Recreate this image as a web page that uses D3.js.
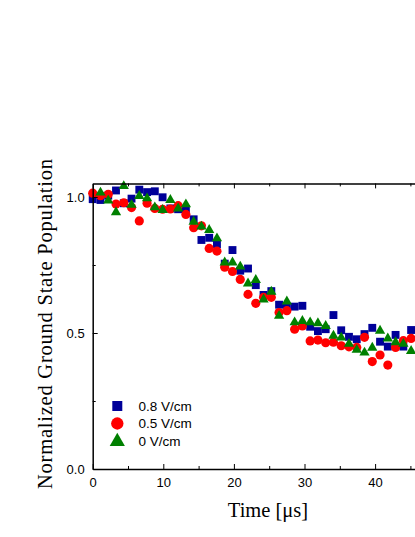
<!DOCTYPE html>
<html><head><meta charset="utf-8">
<script src="https://cdn.jsdelivr.net/npm/d3@7"></script>
<style>html,body{margin:0;padding:0;background:#fff;overflow:hidden}</style>
</head><body>
<svg id="c" width="415" height="537"></svg>
<script>
const time = [0, 1.1, 2.2, 3.3, 4.4, 5.5, 6.6, 7.7, 8.8, 9.9, 11.0, 12.1, 13.2, 14.3, 15.4, 16.5, 17.6, 18.7, 19.8, 20.9, 22.0, 23.1, 24.2, 25.3, 26.4, 27.5, 28.6, 29.7, 30.8, 31.9, 33.0, 34.1, 35.2, 36.3, 37.4, 38.5, 39.6, 40.7, 41.8, 42.9, 44.0, 45.1];
const field08 = [0.992, 0.989, 1.005, 1.024, 0.977, 0.994, 1.027, 1.018, 1.021, 0.999, 0.958, 0.955, 0.956, 0.918, 0.842, 0.850, 0.826, 0.755, 0.805, 0.729, 0.737, 0.676, 0.640, 0.654, 0.604, 0.597, 0.597, 0.600, 0.523, 0.507, 0.514, 0.566, 0.510, 0.486, 0.477, 0.496, 0.519, 0.468, 0.450, 0.493, 0.450, 0.511];
const field05 = [1.014, 1.005, 1.010, 0.974, 0.979, 0.961, 0.912, 0.977, 0.958, 0.955, 0.956, 0.968, 0.936, 0.887, 0.894, 0.811, 0.801, 0.742, 0.726, 0.697, 0.642, 0.609, 0.631, 0.631, 0.575, 0.582, 0.514, 0.526, 0.471, 0.474, 0.464, 0.466, 0.453, 0.449, 0.447, 0.484, 0.395, 0.419, 0.382, 0.447, 0.472, 0.480];
const field00 = [null, 1.016, 0.987, 0.944, 1.040, 0.971, 1.004, 0.995, 0.962, 0.952, 0.989, 0.958, 0.973, 0.909, 0.891, 0.879, 0.848, 0.759, 0.759, 0.744, 0.682, 0.695, 0.623, 0.652, 0.563, 0.616, 0.539, 0.544, 0.539, 0.536, 0.526, 0.490, 0.483, 0.460, 0.438, 0.428, 0.446, 0.508, 0.480, 0.466, 0.460, 0.434];
const seriesNames = ["0.8 V/cm", "0.5 V/cm", "0 V/cm"];
const seriesColors = ["#000099", "#ff0000", "#008000"];
const xTicks = [0, 10, 20, 30, 40];
const xMinor = [5, 15, 25, 35, 45];
const yTicks = [0.0, 0.5, 1.0];
const yMinor = [0.25, 0.75];
const xTitle = "Time [\u03bcs]";
const yTitle = "Normalized Ground State Population";

const svg = d3.select("#c");
const x = d3.scaleLinear().domain([0, 50]).range([92.7, 445.7]);
const y = d3.scaleLinear().domain([0, 1.05]).range([469, 183.4]);
const sansFont = "'Liberation Sans', Arial, sans-serif";
const serifFont = "'Liberation Serif', 'DejaVu Serif', serif";

const plot = svg.append("g");
const symbols = [d3.symbolSquare, d3.symbolCircle, d3.symbolTriangle];
const sizes = [62, 66, 46];
const datasets = [field08, field05, field00];
datasets.forEach((vals, si) => {
  const pts = time.map((t, i) => ({t, v: vals[i]})).filter(d => d.v != null);
  plot.append("g").selectAll("path").data(pts).join("path")
    .attr("transform", d => `translate(${x(d.t)},${y(d.v)})`)
    .attr("d", d3.symbol().type(symbols[si]).size(sizes[si]))
    .attr("fill", seriesColors[si]);
});

// axes
function styleAxis(g) {
  g.select(".domain").attr("stroke", "#000").attr("stroke-width", 1.5);
  g.selectAll(".tick line").attr("stroke", "#000").attr("stroke-width", 1);
  g.selectAll(".tick text").attr("font-family", sansFont).attr("font-size", 13).attr("fill", "#000");
}
const xb = svg.append("g").attr("transform", "translate(0,469)")
  .call(d3.axisBottom(x).tickValues(xTicks).tickFormat(d3.format("d")).tickSizeInner(-5).tickSizeOuter(0).tickPadding(9));
styleAxis(xb);
const xbm = svg.append("g").attr("transform", "translate(0,469)")
  .call(d3.axisBottom(x).tickValues(xMinor).tickFormat("").tickSizeInner(-3).tickSizeOuter(0));
xbm.select(".domain").remove(); xbm.selectAll(".tick line").attr("stroke", "#000");
const xt = svg.append("g").attr("transform", "translate(0,183.4)")
  .call(d3.axisTop(x).tickValues(xTicks).tickFormat("").tickSizeInner(-5).tickSizeOuter(0));
styleAxis(xt);
const xtm = svg.append("g").attr("transform", "translate(0,183.4)")
  .call(d3.axisTop(x).tickValues(xMinor).tickFormat("").tickSizeInner(-3).tickSizeOuter(0));
xtm.select(".domain").remove(); xtm.selectAll(".tick line").attr("stroke", "#000");

const yl = svg.append("g").attr("transform", "translate(92.7,0)")
  .call(d3.axisLeft(y).tickValues(yTicks).tickFormat(d3.format(".1f")).tickSizeInner(-5).tickSizeOuter(0).tickPadding(8));
styleAxis(yl);
const ylm = svg.append("g").attr("transform", "translate(92.7,0)")
  .call(d3.axisLeft(y).tickValues(yMinor).tickFormat("").tickSizeInner(-3).tickSizeOuter(0));
ylm.select(".domain").remove(); ylm.selectAll(".tick line").attr("stroke", "#000");

// titles
svg.append("text").attr("x", 268).attr("y", 517).attr("text-anchor", "middle")
  .attr("font-family", serifFont).attr("font-size", 20.5).attr("fill", "#000").text(xTitle);
svg.append("text").attr("transform", "translate(52,324) rotate(-90)").attr("text-anchor", "middle")
  .attr("font-family", serifFont).attr("font-size", 20.5).attr("fill", "#000")
  .attr("textLength", 330).attr("lengthAdjust", "spacing").text(yTitle);

// legend
const leg = svg.append("g");
const legY = [406, 423.5, 441.5];
seriesNames.forEach((name, i) => {
  leg.append("path").attr("transform", `translate(117.3,${legY[i]})`)
    .attr("d", d3.symbol().type(symbols[i]).size(i === 2 ? 100 : (i === 1 ? 120 : 100)))
    .attr("fill", seriesColors[i]);
  leg.append("text").attr("x", 138.5).attr("y", legY[i] + 4.8)
    .attr("font-family", sansFont).attr("font-size", 13.5).attr("fill", "#000").text(name);
});
</script>
</body></html>
